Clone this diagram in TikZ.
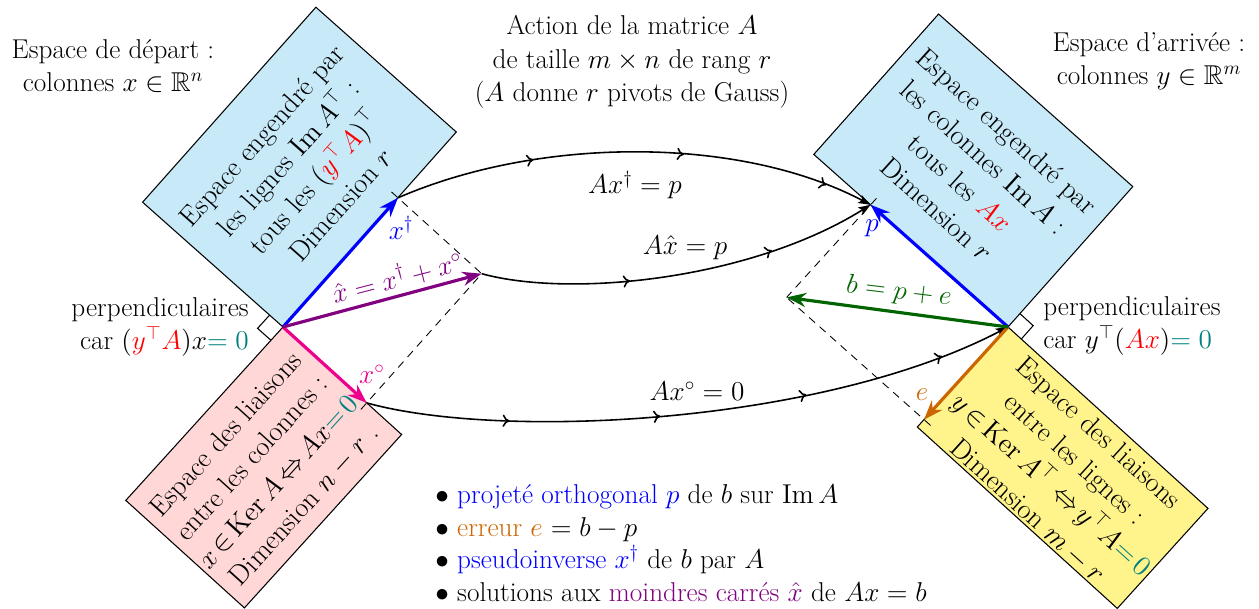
\RequirePackage{fix-cm}
\documentclass[tikz,border=0pt]{standalone}
\usepackage{amsmath,amssymb}
\usetikzlibrary{arrows.meta,decorations.markings,calc}
\definecolor{boxblue}{RGB}{199,233,248}
\definecolor{boxpink}{RGB}{255,215,215}
\definecolor{boxyellow}{RGB}{255,243,140}
\definecolor{vblue}{RGB}{0,0,255}
\definecolor{vpurple}{RGB}{128,0,128}
\definecolor{vmagenta}{RGB}{236,0,140}
\definecolor{vgreen}{RGB}{0,100,0}
\definecolor{vorange}{RGB}{204,102,0}
\definecolor{vteal}{RGB}{0,128,128}
\definecolor{vred}{RGB}{255,0,0}
\newcommand{\flowtip}{\arrow{To[length=4pt,width=7pt]}}
\begin{document}
\begin{tikzpicture}[x=0.02cm,y=-0.02cm,
  font=\fontsize{15.5}{19}\selectfont,
  spacebox/.style={draw=black,line width=0.6pt},
  vec/.style={line width=1.8pt,-{Stealth[length=11pt,width=8pt]}},
  flowline/.style={line width=0.9pt,-{Stealth[length=7pt,width=5pt,inset=1.5pt]},postaction={decorate}},
  proj/.style={dash pattern=on 4.5pt off 3.5pt,line width=0.5pt,shorten <=-5pt},
  boxtext/.style={align=center,inner sep=0pt,font=\fontsize{16}{20}\selectfont},
  plain/.style={align=center,inner sep=0pt}]
\useasboundingbox (0,0) rectangle (1259,609);
% coordinates
\coordinate (OL) at (283,327);
\coordinate (BLr) at (456.3,132);
\coordinate (BLl) at (142.6,202.2);
\coordinate (BLt) at (315.9,7.2);
\coordinate (Pr) at (401.6,434.5);
\coordinate (Pl) at (125.8,500.4);
\coordinate (Pb) at (244.4,607.9);
\coordinate (xd) at (398,197.8);
\coordinate (xo) at (366.7,402.9);
\coordinate (xh) at (481.7,273.7);
\coordinate (OR) at (1008,327);
\coordinate (BRl) at (813.8,154.4);
\coordinate (BRr) at (1132.8,186.6);
\coordinate (BRt) at (938.6,14);
\coordinate (Yl) at (917.3,427);
\coordinate (Yr) at (1208,508.4);
\coordinate (Yb) at (1117.3,608.4);
\coordinate (pp) at (870.6,204.8);
\coordinate (ee) at (924,419.6);
\coordinate (bb) at (786.6,297.4);
% boxes
\filldraw[spacebox,fill=boxblue] (OL) -- (BLr) -- (BLt) -- (BLl) -- cycle;
\filldraw[spacebox,fill=boxpink] (OL) -- (Pr) -- (Pb) -- (Pl) -- cycle;
\filldraw[spacebox,fill=boxblue] (OR) -- (BRl) -- (BRt) -- (BRr) -- cycle;
\filldraw[spacebox,fill=boxyellow] (OR) -- (Yr) -- (Yb) -- (Yl) -- cycle;
% right angle squares
\coordinate (sa) at ($(OL)!10.2pt!(BLl)$);
\coordinate (sb) at ($(OL)!10.2pt!(Pl)$);
\draw[line width=0.6pt] (sa) -- ($(sa)+(sb)-(OL)$) -- (sb);
\coordinate (sc) at ($(OR)!10.2pt!(BRr)$);
\coordinate (sd) at ($(OR)!10.2pt!(Yr)$);
\draw[line width=0.6pt] (sc) -- ($(sc)+(sd)-(OR)$) -- (sd);
% box texts
\node[boxtext,rotate=48.4] (tRow) at (301,170) {Espace engendr\'e par\\ les lignes $\operatorname{Im}A^{\top}$ :\\ tous les $(\textcolor{vred}{y^{\top}A})^{\top}$\\ Dimension $r$};
\node[boxtext,rotate=47.8] (tNull) at (265,470) {Espace des liaisons\\ entre les colonnes :\\ $\thickmuskip=2.5mu x\in\operatorname{Ker}A\Leftrightarrow Ax\textcolor{vteal}{=0}$\\ Dimension $n-r$ .};
\node[boxtext,rotate=-42.2] (tCol) at (972,170) {Espace engendr\'e par\\ les colonnes $\operatorname{Im}A$ :\\ tous les $\textcolor{vred}{Ax}$\\ Dimension $r$};
\node[boxtext,rotate=-42.2] (tLeft) at (1063,472) {Espace des liaisons\\ entre les lignes :\\ $\thickmuskip=2.5mu y\in\operatorname{Ker}A^{\top}\,\Leftrightarrow y^{\top}A\textcolor{vteal}{=0}$\\ Dimension $m-r$};
% dashed projections
\draw[proj] (xd) -- (xh);
\draw[proj] (xo) -- (xh);
\draw[proj] (pp) -- (bb);
\draw[proj] (ee) -- (bb);
% flows
\draw[flowline,decoration={markings,mark=at position 0.29 with {\flowtip},mark=at position 0.6 with {\flowtip},mark=at position 0.9 with {\flowtip}}]
  (xd) .. controls (540,136) and (740,136) .. (pp);
\draw[flowline,decoration={markings,mark=at position 0.37 with {\flowtip},mark=at position 0.73 with {\flowtip}}]
  (xh) .. controls (570,298) and (750,280) .. (pp);
\draw[flowline,decoration={markings,mark=at position 0.22 with {\flowtip},mark=at position 0.45 with {\flowtip},mark=at position 0.675 with {\flowtip},mark=at position 0.89 with {\flowtip}}]
  (xo) .. controls (500,440) and (820,425) .. (OR);
% vectors
\draw[vec,vblue] (OL) -- (xd);
\draw[vec,vmagenta] (OL) -- (xo);
\draw[vec,vpurple] (OL) -- (xh);
\draw[vec,vblue] (OR) -- (pp);
\draw[vec,vorange] (OR) -- (ee);
\draw[vec,vgreen] (OR) -- (bb);
% vector labels
\node[plain,text=vblue] (lxd) at (401,228) {$x^{\dagger}$};
\node[plain,text=vmagenta] (lxo) at (372,374) {$x^{\circ}$};
\node[plain,text=vpurple,rotate=14.5] (lxh) at (397,277) {$\hat{x}=x^{\dagger}+x^{\circ}$};
\node[plain,text=vblue] (lp) at (872,228) {$p$};
\node[plain,text=vorange] (le) at (922,395) {$e$};
\node[plain,text=vgreen,rotate=-7] (lb) at (899,292) {$b=p+e$};
\node[plain] (l1) at (635,185) {$Ax^{\dagger}=p$};
\node[plain] (l2) at (685,248) {$A\hat{x}=p$};
\node[plain] (l3) at (697,391) {$Ax^{\circ}=0$};
% outer texts
\node[plain] (tDep) at (113,66) {Espace de d\'epart :\\ colonnes $x\in\mathbb{R}^{n}$};
\node[plain] (tArr) at (1149,61) {Espace d'arriv\'ee :\\ colonnes $y\in\mathbb{R}^{m}$};
\node[plain] (tAct) at (632,62) {Action de la matrice $A$\\ de taille $m\times n$ de rang $r$\\ ($A$ donne $r$ pivots de Gauss)};
\node[plain,align=right,anchor=east] (tPerpL) at (249,327) {perpendiculaires\\ car $(\textcolor{vred}{y^{\top}A})x\textcolor{vteal}{=0}$};
\node[plain,align=left,anchor=west] (tPerpR) at (1043,326) {perpendiculaires\\ car $y^{\top}(\textcolor{vred}{Ax})\textcolor{vteal}{=0}$};
\node[plain,align=left,font=\fontsize{15.5}{18.6}\selectfont] (tList) at (681,543) {$\bullet$ \textcolor{vblue}{projet\'e orthogonal $p$} de $b$ sur $\operatorname{Im}A$\\
$\bullet$ \textcolor{vorange}{erreur $e$} $=b-p$\\
$\bullet$ \textcolor{vblue}{pseudoinverse $x^{\dagger}$} de $b$ par $A$\\
$\bullet$ solutions aux \textcolor{vpurple}{moindres carr\'es $\hat{x}$} de $Ax=b$};
\end{tikzpicture}
\end{document}
